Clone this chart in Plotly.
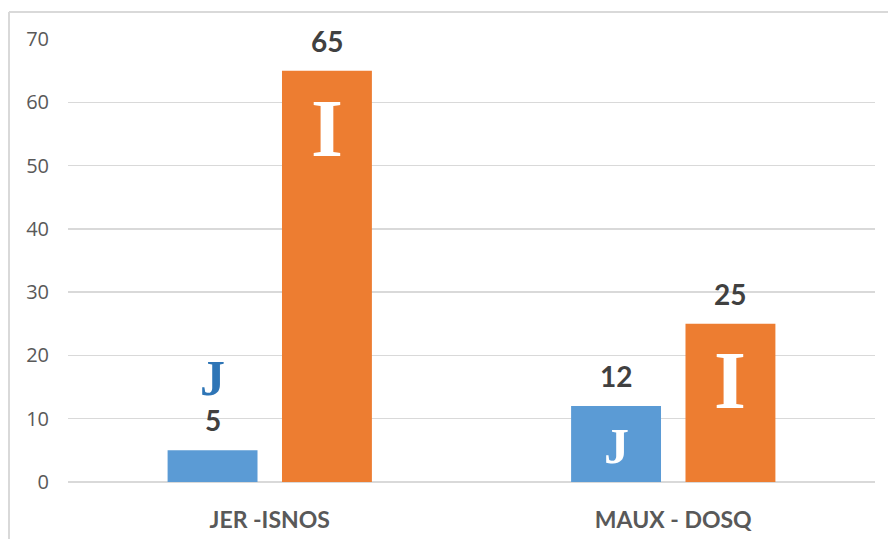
import plotly.graph_objects as go

categories = ["JER -ISNOS", "MAUX - DOSQ"]
series_names = ["J", "I"]
values_j = [5, 12]
values_i = [65, 25]
series_values = [values_j, values_i]
letters = ["J", "I"]

# styling (not data)
colors = ["#5B9BD5", "#ED7D31"]
BARGAP = 0.433
BARGROUPGAP = 0.214
# letter placement per series per category: pixel offset from bar top, color, size
letter_style = [
    [dict(yshift=72, color="#2E75B6", size=50), dict(yshift=-40, color="white", size=50)],
    [dict(yshift=-58, color="white", size=82), dict(yshift=-57, color="white", size=82)],
]

W, H = 888, 539
ml, mr, mt, mb = 68, 13, 39, 57
pw, ph = W - ml - mr, H - mt - mb

fig = go.Figure()
for name, vals, col in zip(series_names, series_values, colors):
    fig.add_trace(go.Bar(name=name, x=categories, y=vals, marker=dict(color=col, line=dict(width=0)),
                         hoverinfo="skip"))

annotations = []
nser = len(series_values)
slot = (1 - BARGAP) / nser
for s, vals in enumerate(series_values):
    offset = -(1 - BARGAP) / 2 + slot * (s + 0.5)
    for c, v in enumerate(vals):
        xpos = c + offset
        annotations.append(dict(x=xpos, y=v, xref="x", yref="y", text=f"<b>{v}</b>", showarrow=False,
                                yanchor="middle", yshift=30,
                                font=dict(family="Lato", size=28, color="#404040")))
        st = letter_style[s][c]
        annotations.append(dict(x=xpos, y=v, xref="x", yref="y", text=f"<b>{letters[s]}</b>", showarrow=False,
                                yanchor="middle", yshift=st["yshift"],
                                font=dict(family="Liberation Serif", size=st["size"], color=st["color"])))

shapes = [
    dict(type="line", xref="paper", yref="paper", x0=(9 - ml) / pw, x1=(9 - ml) / pw,
         y0=(H - 539 - mb) / ph - 0.01, y1=1 + (mt - 12) / ph, line=dict(color="#D9D9D9", width=2)),
    dict(type="line", xref="paper", yref="paper", x0=(9 - ml) / pw, x1=(W + 5 - ml) / pw,
         y0=1 + (mt - 12) / ph, y1=1 + (mt - 12) / ph, line=dict(color="#D9D9D9", width=2)),
]

fig.update_layout(
    width=W, height=H,
    margin=dict(l=ml, r=mr, t=mt, b=mb, pad=0, autoexpand=False),
    barmode="group", bargap=BARGAP, bargroupgap=BARGROUPGAP,
    plot_bgcolor="white", paper_bgcolor="white",
    showlegend=False,
    annotations=annotations,
    shapes=shapes,
    xaxis=dict(showgrid=False, showline=False, zeroline=False, ticks="", automargin=False,
               tickfont=dict(family="Lato", size=23, color="#595959", weight="bold"),
               ticklabelstandoff=22),
    yaxis=dict(range=[0, 70], dtick=10, showgrid=True, gridcolor="#D9D9D9", gridwidth=1.5,
               zeroline=True, zerolinecolor="#D9D9D9", zerolinewidth=1.5, showline=False, ticks="",
               automargin=False,
               tickfont=dict(family="Open Sans", size=20, color="#595959"),
               ticklabelstandoff=18),
)

fig.write_html("out.html", config={"displayModeBar": False, "staticPlot": True},
               post_script="document.body.style.margin='0';document.body.style.overflow='hidden';")
